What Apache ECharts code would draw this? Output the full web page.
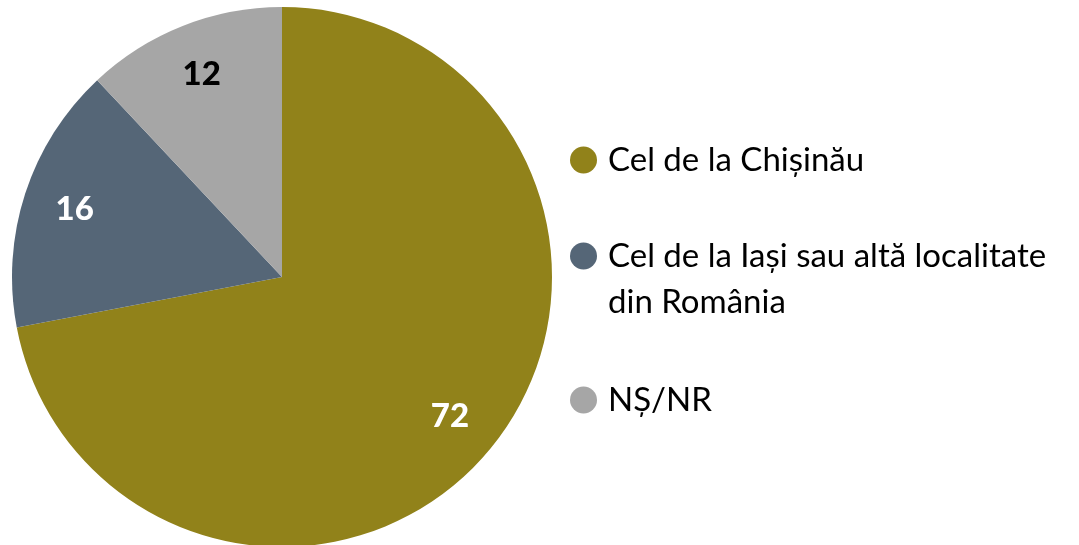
<!DOCTYPE html>
<html>
<head>
<meta charset="utf-8">
<script src="https://cdn.jsdelivr.net/npm/echarts@6/dist/echarts.min.js"></script>
<style>
  html, body { margin: 0; padding: 0; background: #fff; }
  #main { width: 1079px; height: 545px; }
</style>
</head>
<body>
<div id="main"></div>
<script>
const categories = ['Cel de la Chișinău', 'Cel de la Iași sau altă localitate\ndin România', 'NȘ/NR']
const values = [72, 16, 12]
const colors = ['#91821a', '#556677', '#a6a6a6']
const labelColors = ['#fff', '#fff', '#000']

const font = 'Lato, "Open Sans", sans-serif'
const pieData = categories.map((name, i) => ({
  name,
  value: values[i],
  itemStyle: { color: colors[i] }
}))

// one legend per entry, so the two-line one can keep its dot on the first line
// (an empty first line puts the real first line at the dot's height)
const legendTops = [137, 187, 377]
const legends = categories.map((name, i) => ({
  data: [name],
  orient: 'vertical',
  left: 570,
  top: legendTops[i],
  padding: 0,
  icon: 'circle',
  itemWidth: 27,
  itemHeight: 27,
  selectedMode: false,
  formatter: n => (n.includes('\n') ? ' \n' + n : n),
  textStyle: {
    fontFamily: font,
    fontSize: 33,
    lineHeight: 46,
    color: '#000',
    padding: [0, 0, 0, 6]
  }
}))

const myChart = echarts.init(document.getElementById('main'))
myChart.setOption({
  animation: false,
  legend: legends,
  series: [{
    type: 'pie',
    center: [282, 277],
    radius: [0, 270],
    startAngle: 90,
    label: { show: false },
    labelLine: { show: false },
    emphasis: { disabled: true },
    data: pieData
  }, {
    // transparent ring only used to place the value labels at ~80% of radius
    type: 'pie',
    center: [282, 277],
    radius: [160, 270],
    startAngle: 90,
    silent: true,
    itemStyle: { color: 'transparent' },
    emphasis: { disabled: true },
    label: {
      show: true,
      position: 'inside',
      formatter: '{c}',
      fontFamily: font,
      fontWeight: 900,
      fontSize: 33
    },
    labelLine: { show: false },
    data: categories.map((name, i) => ({
      name,
      value: values[i],
      label: { color: labelColors[i] }
    }))
  }]
})
</script>
</body>
</html>
